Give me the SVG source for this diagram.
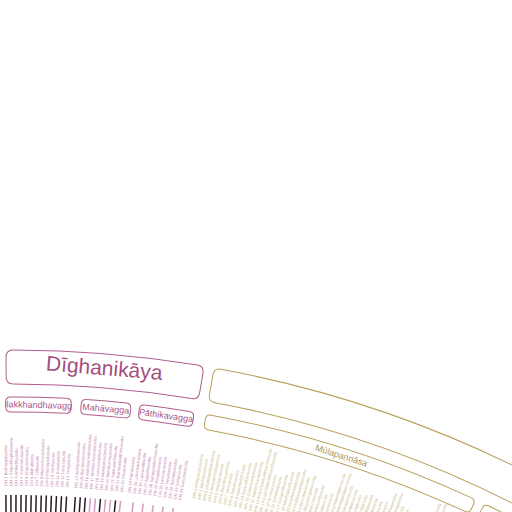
<svg xmlns="http://www.w3.org/2000/svg" width="512" height="512" viewBox="0 0 512 512">
<style>
.dn{fill:none;stroke:#b35c8c;stroke-width:1}
.mn{fill:none;stroke:#b89e58;stroke-width:1}
.nk{font-family:"Liberation Sans",Arial,sans-serif;font-size:21px;fill:#a34e7d;text-anchor:middle}
.vd{font-family:"Liberation Sans",Arial,sans-serif;font-size:9px;fill:#a8588a;text-anchor:middle}
.vm{font-family:"Liberation Sans",Arial,sans-serif;font-size:9px;fill:#ad9650;text-anchor:middle}
.sd{font-family:"Liberation Sans",Arial,sans-serif;font-size:4.2px;fill:#c98db4}
.sm{font-family:"Liberation Sans",Arial,sans-serif;font-size:4.2px;fill:#cbbd8e}
.bar{stroke:#2a1a24;stroke-width:1.5}
.barp{stroke:#d49cc0;stroke-width:1.5}
</style>
<rect width="512" height="512" fill="#fff"/>
<g transform="translate(12,1494)">
<g id="connectors">
<g class="bar">
<line x1="0" y1="-999" x2="0" y2="-950" transform="rotate(-0.35)"/>
<line x1="0" y1="-999" x2="0" y2="-950" transform="rotate(-0.06)"/>
<line x1="0" y1="-999" x2="0" y2="-950" transform="rotate(0.23)"/>
<line x1="0" y1="-999" x2="0" y2="-950" transform="rotate(0.52)"/>
<line x1="0" y1="-999" x2="0" y2="-950" transform="rotate(0.81)"/>
<line x1="0" y1="-999" x2="0" y2="-950" transform="rotate(1.10)"/>
<line x1="0" y1="-999" x2="0" y2="-950" transform="rotate(1.39)"/>
<line x1="0" y1="-999" x2="0" y2="-950" transform="rotate(1.68)"/>
<line x1="0" y1="-999" x2="0" y2="-950" transform="rotate(1.97)"/>
<line x1="0" y1="-999" x2="0" y2="-950" transform="rotate(2.26)"/>
<line x1="0" y1="-999" x2="0" y2="-950" transform="rotate(2.55)"/>
<line x1="0" y1="-999" x2="0" y2="-950" transform="rotate(2.84)"/>
<line x1="0" y1="-999" x2="0" y2="-950" transform="rotate(3.13)"/>
<line x1="0" y1="-999" x2="0" y2="-950" transform="rotate(3.63)"/>
<line x1="0" y1="-999" x2="0" y2="-950" transform="rotate(3.92)"/>
<line x1="0" y1="-999" x2="0" y2="-950" transform="rotate(4.21)"/>
<line x1="0" y1="-999" x2="0" y2="-950" transform="rotate(5.08)"/>
<line x1="0" y1="-999" x2="0" y2="-950" transform="rotate(5.95)"/>
</g>
<g class="barp">
<line x1="0" y1="-999" x2="0" y2="-950" transform="rotate(4.50)"/>
<line x1="0" y1="-999" x2="0" y2="-950" transform="rotate(4.79)"/>
<line x1="0" y1="-999" x2="0" y2="-950" transform="rotate(5.37)"/>
<line x1="0" y1="-999" x2="0" y2="-950" transform="rotate(5.66)"/>
<line x1="0" y1="-999" x2="0" y2="-950" transform="rotate(6.24)"/>
<line x1="0" y1="-999" x2="0" y2="-950" transform="rotate(6.97)"/>
<line x1="0" y1="-999" x2="0" y2="-950" transform="rotate(7.55)"/>
<line x1="0" y1="-999" x2="0" y2="-950" transform="rotate(8.13)"/>
<line x1="0" y1="-999" x2="0" y2="-950" transform="rotate(8.71)"/>
<line x1="0" y1="-999" x2="0" y2="-950" transform="rotate(9.29)"/>
</g>
</g>

<g id="digha">
<circle class="dn" r="1144" transform="rotate(-89.949)" stroke-dasharray="185.07 99999"/>
<circle class="dn" r="1110" transform="rotate(-89.939)" stroke-dasharray="179.15 99999"/>
<path class="dn" transform="rotate(-0.3)" d="M7 -1144Q0 -1144 0 -1137V-1117Q0 -1110 7 -1110"/>
<path class="dn" transform="rotate(9.67)" d="M-7 -1144Q0 -1144 0 -1137V-1117Q0 -1110 -7 -1110"/>
<text class="nk" transform="rotate(4.685) translate(0,-1130)" dy=".35em">Dīghanikāya</text>
</g>

<g id="majjhima">
<circle class="mn" r="1144" transform="rotate(-79.469)" stroke-dasharray="381.74 99999"/>
<circle class="mn" r="1110" transform="rotate(-79.459)" stroke-dasharray="369.98 99999"/>
<path class="mn" transform="rotate(10.18)" d="M7 -1144Q0 -1144 0 -1137V-1117Q0 -1110 7 -1110"/>
<path class="mn" transform="rotate(30)" d="M-7 -1144Q0 -1144 0 -1137V-1117Q0 -1110 -7 -1110"/>
</g>

<g id="silakkhandhavagga">
<circle class="dn" r="1097" transform="rotate(-90.069)" stroke-dasharray="55.86 99999"/>
<circle class="dn" r="1082" transform="rotate(-90.065)" stroke-dasharray="54.96 99999"/>
<path class="dn" transform="rotate(-0.33)" d="M5 -1097Q0 -1097 0 -1092V-1087Q0 -1082 5 -1082"/>
<path class="dn" transform="rotate(3.11)" d="M-5 -1097Q0 -1097 0 -1092V-1087Q0 -1082 -5 -1082"/>
<text class="vd" transform="rotate(1.39) translate(0,-1089.5)" dy=".35em">ilakkhandhavagg</text>
</g>

<g id="mahavagga">
<circle class="dn" r="1097" transform="rotate(-86.109)" stroke-dasharray="39.97 99999"/>
<circle class="dn" r="1082" transform="rotate(-86.105)" stroke-dasharray="39.29 99999"/>
<path class="dn" transform="rotate(3.63)" d="M5 -1097Q0 -1097 0 -1092V-1087Q0 -1082 5 -1082"/>
<path class="dn" transform="rotate(6.24)" d="M-5 -1097Q0 -1097 0 -1092V-1087Q0 -1082 -5 -1082"/>
<text class="vd" transform="rotate(4.935) translate(0,-1089.5)" dy=".35em">Mahāvagga</text>
</g>

<g id="pathikavagga">
<circle class="dn" r="1097" transform="rotate(-83.049)" stroke-dasharray="45.14 99999"/>
<circle class="dn" r="1082" transform="rotate(-83.045)" stroke-dasharray="44.39 99999"/>
<path class="dn" transform="rotate(6.69)" d="M5 -1097Q0 -1097 0 -1092V-1087Q0 -1082 5 -1082"/>
<path class="dn" transform="rotate(9.57)" d="M-5 -1097Q0 -1097 0 -1092V-1087Q0 -1082 -5 -1082"/>
<text class="vd" transform="rotate(8.13) translate(0,-1089.5)" dy=".35em">Pāthikavagga</text>
</g>

<g id="mulapannasa">
<circle class="mn" r="1097" transform="rotate(-79.539)" stroke-dasharray="273.37 99999"/>
<circle class="mn" r="1082" transform="rotate(-79.535)" stroke-dasharray="269.49 99999"/>
<path class="mn" transform="rotate(10.2)" d="M5 -1097Q0 -1097 0 -1092V-1087Q0 -1082 5 -1082"/>
<path class="mn" transform="rotate(25.0)" d="M-5 -1097Q0 -1097 0 -1092V-1087Q0 -1082 -5 -1082"/>
<text class="vm" transform="rotate(17.6) translate(0,-1089.5)" dy=".35em">Mūlapaṇṇāsa</text>
</g>

<g id="majjhimapannasa">
<circle class="mn" r="1097" transform="rotate(-64.239)" stroke-dasharray="114.45 99999"/>
<circle class="mn" r="1082" transform="rotate(-64.235)" stroke-dasharray="112.75 99999"/>
<path class="mn" transform="rotate(25.5)" d="M5 -1097Q0 -1097 0 -1092V-1087Q0 -1082 5 -1082"/>
</g>

<g id="dn-suttas" class="sd">
<text transform="rotate(-0.35) translate(0,-1008) rotate(-90)" dy=".35em">DN 1 Brahmajālasutta</text>
<text transform="rotate(-0.06) translate(0,-1008) rotate(-90)" dy=".35em">DN 2 Sāmaññaphalasutta</text>
<text transform="rotate(0.23) translate(0,-1008) rotate(-90)" dy=".35em">DN 3 Ambaṭṭhasutta</text>
<text transform="rotate(0.52) translate(0,-1008) rotate(-90)" dy=".35em">DN 4 Soṇadaṇḍasutta</text>
<text transform="rotate(0.81) translate(0,-1008) rotate(-90)" dy=".35em">DN 5 Kūṭadantasutta</text>
<text transform="rotate(1.10) translate(0,-1008) rotate(-90)" dy=".35em">DN 6 Mahālisutta</text>
<text transform="rotate(1.39) translate(0,-1008) rotate(-90)" dy=".35em">DN 7 Jāliyasutta</text>
<text transform="rotate(1.68) translate(0,-1008) rotate(-90)" dy=".35em">DN 8 Mahāsīhanādasutta</text>
<text transform="rotate(1.97) translate(0,-1008) rotate(-90)" dy=".35em">DN 9 Poṭṭhapādasutta</text>
<text transform="rotate(2.26) translate(0,-1008) rotate(-90)" dy=".35em">DN 10 Subhasutta</text>
<text transform="rotate(2.55) translate(0,-1008) rotate(-90)" dy=".35em">DN 11 Kevaṭṭasutta</text>
<text transform="rotate(2.84) translate(0,-1008) rotate(-90)" dy=".35em">DN 12 Lohiccasutta</text>
<text transform="rotate(3.13) translate(0,-1008) rotate(-90)" dy=".35em">DN 13 Tevijjasutta</text>
<text transform="rotate(3.63) translate(0,-1008) rotate(-90)" dy=".35em">DN 14 Mahāpadānasutta</text>
<text transform="rotate(3.92) translate(0,-1008) rotate(-90)" dy=".35em">DN 15 Mahānidānasutta</text>
<text transform="rotate(4.21) translate(0,-1008) rotate(-90)" dy=".35em">DN 16 Mahāparinibbānasutta</text>
<text transform="rotate(4.50) translate(0,-1008) rotate(-90)" dy=".35em">DN 17 Mahāsudassanasutta</text>
<text transform="rotate(4.79) translate(0,-1008) rotate(-90)" dy=".35em">DN 18 Janavasabhasutta</text>
<text transform="rotate(5.08) translate(0,-1008) rotate(-90)" dy=".35em">DN 19 Mahāgovindasutta</text>
<text transform="rotate(5.37) translate(0,-1008) rotate(-90)" dy=".35em">DN 20 Mahāsamayasutta</text>
<text transform="rotate(5.66) translate(0,-1008) rotate(-90)" dy=".35em">DN 21 Sakkapañhasutta</text>
<text transform="rotate(5.95) translate(0,-1008) rotate(-90)" dy=".35em">DN 22 Mahāsatipaṭṭhānasutta</text>
<text transform="rotate(6.24) translate(0,-1008) rotate(-90)" dy=".35em">DN 23 Pāyāsisutta</text>
<text transform="rotate(6.68) translate(0,-1008) rotate(-90)" dy=".35em">DN 24 Pāthikasutta</text>
<text transform="rotate(6.97) translate(0,-1008) rotate(-90)" dy=".35em">DN 25 Udumbarikasutta</text>
<text transform="rotate(7.26) translate(0,-1008) rotate(-90)" dy=".35em">DN 26 Cakkavattisutta</text>
<text transform="rotate(7.55) translate(0,-1008) rotate(-90)" dy=".35em">DN 27 Aggaññasutta</text>
<text transform="rotate(7.84) translate(0,-1008) rotate(-90)" dy=".35em">DN 28 Sampasādanīyasutta</text>
<text transform="rotate(8.13) translate(0,-1008) rotate(-90)" dy=".35em">DN 29 Pāsādikasutta</text>
<text transform="rotate(8.42) translate(0,-1008) rotate(-90)" dy=".35em">DN 30 Lakkhaṇasutta</text>
<text transform="rotate(8.71) translate(0,-1008) rotate(-90)" dy=".35em">DN 31 Siṅgālasutta</text>
<text transform="rotate(9.00) translate(0,-1008) rotate(-90)" dy=".35em">DN 32 Āṭānāṭiyasutta</text>
<text transform="rotate(9.29) translate(0,-1008) rotate(-90)" dy=".35em">DN 33 Saṅgītisutta</text>
<text transform="rotate(9.58) translate(0,-1008) rotate(-90)" dy=".35em">DN 34 Dasuttarasutta</text>
</g>

<g id="mn-suttas" class="sm">
<text transform="rotate(10.348) translate(0,-1012) rotate(-90)" dy=".35em">MN 1 Mūlapariyāyasutta</text>
<text transform="rotate(10.644) translate(0,-1012) rotate(-90)" dy=".35em">MN 2 Sabbāsavasutta</text>
<text transform="rotate(10.940) translate(0,-1012) rotate(-90)" dy=".35em">MN 3 Dhammadāyādasutta</text>
<text transform="rotate(11.236) translate(0,-1012) rotate(-90)" dy=".35em">MN 4 Bhayabheravasutta</text>
<text transform="rotate(11.532) translate(0,-1012) rotate(-90)" dy=".35em">MN 5 Anaṅgaṇasutta</text>
<text transform="rotate(11.828) translate(0,-1012) rotate(-90)" dy=".35em">MN 6 Ākaṅkheyyasutta</text>
<text transform="rotate(12.124) translate(0,-1012) rotate(-90)" dy=".35em">MN 7 Vatthasutta</text>
<text transform="rotate(12.420) translate(0,-1012) rotate(-90)" dy=".35em">MN 8 Sallekhasutta</text>
<text transform="rotate(12.716) translate(0,-1012) rotate(-90)" dy=".35em">MN 9 Sammādiṭṭhisutta</text>
<text transform="rotate(13.012) translate(0,-1012) rotate(-90)" dy=".35em">MN 10 Satipaṭṭhānasutta</text>
<text transform="rotate(13.308) translate(0,-1012) rotate(-90)" dy=".35em">MN 11 Cūḷasīhanādasutta</text>
<text transform="rotate(13.604) translate(0,-1012) rotate(-90)" dy=".35em">MN 12 Mahāsīhanādasutta</text>
<text transform="rotate(13.900) translate(0,-1012) rotate(-90)" dy=".35em">MN 13 Mahādukkhakkhandhasutta</text>
<text transform="rotate(14.196) translate(0,-1012) rotate(-90)" dy=".35em">MN 14 Cūḷadukkhakkhandhasutta</text>
<text transform="rotate(14.492) translate(0,-1012) rotate(-90)" dy=".35em">MN 15 Anumānasutta</text>
<text transform="rotate(14.788) translate(0,-1012) rotate(-90)" dy=".35em">MN 16 Cetokhilasutta</text>
<text transform="rotate(15.084) translate(0,-1012) rotate(-90)" dy=".35em">MN 17 Vanapatthasutta</text>
<text transform="rotate(15.380) translate(0,-1012) rotate(-90)" dy=".35em">MN 18 Madhupiṇḍikasutta</text>
<text transform="rotate(15.676) translate(0,-1012) rotate(-90)" dy=".35em">MN 19 Dvedhāvitakkasutta</text>
<text transform="rotate(15.972) translate(0,-1012) rotate(-90)" dy=".35em">MN 20 Vitakkasaṇṭhānasutta</text>
<text transform="rotate(16.268) translate(0,-1012) rotate(-90)" dy=".35em">MN 21 Kakacūpamasutta</text>
<text transform="rotate(16.564) translate(0,-1012) rotate(-90)" dy=".35em">MN 22 Alagaddūpamasutta</text>
<text transform="rotate(16.860) translate(0,-1012) rotate(-90)" dy=".35em">MN 23 Vammikasutta</text>
<text transform="rotate(17.156) translate(0,-1012) rotate(-90)" dy=".35em">MN 24 Rathavinītasutta</text>
<text transform="rotate(17.452) translate(0,-1012) rotate(-90)" dy=".35em">MN 25 Nivāpasutta</text>
<text transform="rotate(17.748) translate(0,-1012) rotate(-90)" dy=".35em">MN 26 Pāsarāsisutta</text>
<text transform="rotate(18.044) translate(0,-1012) rotate(-90)" dy=".35em">MN 27 Cūḷahatthipadopamasutta</text>
<text transform="rotate(18.340) translate(0,-1012) rotate(-90)" dy=".35em">MN 28 Mahāhatthipadopamasutta</text>
<text transform="rotate(18.636) translate(0,-1012) rotate(-90)" dy=".35em">MN 29 Mahāsāropamasutta</text>
<text transform="rotate(18.932) translate(0,-1012) rotate(-90)" dy=".35em">MN 30 Cūḷasāropamasutta</text>
<text transform="rotate(19.228) translate(0,-1012) rotate(-90)" dy=".35em">MN 31 Cūḷagosiṅgasutta</text>
<text transform="rotate(19.524) translate(0,-1012) rotate(-90)" dy=".35em">MN 32 Mahāgosiṅgasutta</text>
<text transform="rotate(19.820) translate(0,-1012) rotate(-90)" dy=".35em">MN 33 Mahāgopālakasutta</text>
<text transform="rotate(20.116) translate(0,-1012) rotate(-90)" dy=".35em">MN 34 Cūḷagopālakasutta</text>
<text transform="rotate(20.412) translate(0,-1012) rotate(-90)" dy=".35em">MN 35 Cūḷasaccakasutta</text>
<text transform="rotate(20.708) translate(0,-1012) rotate(-90)" dy=".35em">MN 36 Mahāsaccakasutta</text>
<text transform="rotate(21.004) translate(0,-1012) rotate(-90)" dy=".35em">MN 37 Cūḷataṇhāsaṅkhayasutta</text>
<text transform="rotate(21.300) translate(0,-1012) rotate(-90)" dy=".35em">MN 38 Mahātaṇhāsaṅkhayasutta</text>
<text transform="rotate(21.596) translate(0,-1012) rotate(-90)" dy=".35em">MN 39 Mahāassapurasutta</text>
<text transform="rotate(21.892) translate(0,-1012) rotate(-90)" dy=".35em">MN 40 Cūḷaassapurasutta</text>
<text transform="rotate(22.188) translate(0,-1012) rotate(-90)" dy=".35em">MN 41 Sāleyyakasutta</text>
<text transform="rotate(22.484) translate(0,-1012) rotate(-90)" dy=".35em">MN 42 Verañjakasutta</text>
<text transform="rotate(22.780) translate(0,-1012) rotate(-90)" dy=".35em">MN 43 Mahāvedallasutta</text>
<text transform="rotate(23.076) translate(0,-1012) rotate(-90)" dy=".35em">MN 44 Cūḷavedallasutta</text>
<text transform="rotate(23.372) translate(0,-1012) rotate(-90)" dy=".35em">MN 45 Cūḷadhammasamādānasutta</text>
<text transform="rotate(23.668) translate(0,-1012) rotate(-90)" dy=".35em">MN 46 Mahādhammasamādānasutta</text>
<text transform="rotate(23.964) translate(0,-1012) rotate(-90)" dy=".35em">MN 47 Vīmaṃsakasutta</text>
<text transform="rotate(24.260) translate(0,-1012) rotate(-90)" dy=".35em">MN 48 Kosambiyasutta</text>
<text transform="rotate(24.556) translate(0,-1012) rotate(-90)" dy=".35em">MN 49 Brahmanimantanikasutta</text>
<text transform="rotate(24.852) translate(0,-1012) rotate(-90)" dy=".35em">MN 50 Māratajjanīyasutta</text>
</g>
</g>
</svg>
